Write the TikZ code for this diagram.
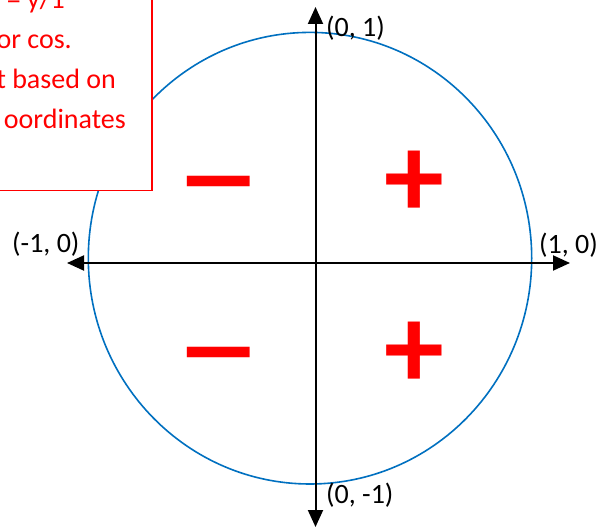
\documentclass[tikz,border=0pt]{standalone}
\usepackage{fontspec}
\setmainfont{Carlito}
\usetikzlibrary{arrows.meta}
\definecolor{circblue}{HTML}{0070C0}
\begin{document}
\begin{tikzpicture}[x=1pt,y=-1pt,
  axis/.style={line width=2pt,{Triangle[length=17pt,width=15pt]}-{Triangle[length=17pt,width=15pt]}},
  lbl/.style={inner sep=0pt,font=\fontsize{28}{30}\selectfont},
  note/.style={lbl,text=red},
  sign/.style={inner sep=0pt,text=red,font=\fontsize{120}{120}\selectfont\bfseries}]
\useasboundingbox (0,0) rectangle (605,529);
\fill[white] (0,0) rectangle (605,529);
% unit circle
\draw[circblue, line width=1.6pt] (310,258.2) ellipse [x radius=221.7, y radius=225.8];
% note box (cropped)
\node[draw=red, fill=white, line width=1.8pt, inner sep=0pt, minimum width=200pt, minimum height=230pt, anchor=south east] (notebox) at (152.5,191.5) {};
\node[note, anchor=base east] (n1) at (65,9) {= y/1};
\node[note, anchor=base east] (n2) at (72,49) {or cos.};
\node[note, anchor=base east] (n3) at (116,89) {t based on};
\node[note, anchor=base east] (n4) at (126,129) {oordinates};
% axes
\coordinate (top) at (315.5,7);
\coordinate (bot) at (315.5,527);
\coordinate (left) at (67,263);
\coordinate (right) at (570,263);
\draw[axis] (bot) -- (top);
\draw[axis] (left) -- (right);
% labels
\node[lbl, anchor=base west] (p01) at (326,37) {(0, 1)};
\node[lbl, anchor=base west] (pm10) at (12,253) {(-1, 0)};
\node[lbl, anchor=base west] (p10) at (539,254) {(1, 0)};
\node[lbl, anchor=base west] (p0m1) at (326,503) {(0, -1)};
% signs
\node[sign, anchor=base] (s1) at (218.5,216) {\scalebox{1.48}[1]{–}};
\node[sign, anchor=base] (s2) at (414.5,218) {+};
\node[sign, anchor=base] (s3) at (218.5,386.5) {\scalebox{1.48}[1]{–}};
\node[sign, anchor=base] (s4) at (414.5,388.5) {+};
\end{tikzpicture}
\end{document}
